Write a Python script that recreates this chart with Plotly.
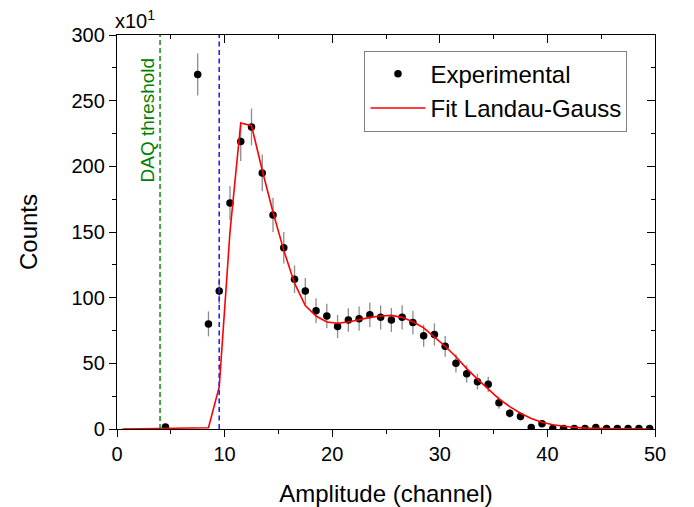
import plotly.graph_objects as go

# ---------------- data ----------------
exp_x = [4.5, 7.5, 8.5, 9.5, 10.5, 11.5, 12.5, 13.5, 14.5, 15.5, 16.5, 17.5, 18.5, 19.5,
         20.5, 21.5, 22.5, 23.5, 24.5, 25.5, 26.5, 27.5, 28.5, 29.5, 30.5, 31.5, 32.5,
         33.5, 34.5, 35.5, 36.5, 37.5, 38.5, 39.5, 40.5, 41.5, 42.5, 43.5, 44.5, 45.5,
         46.5, 47.5, 48.5, 49.5]
exp_y = [1.5, 270, 80, 105, 172, 219, 230, 195, 163, 138, 114, 105, 90, 86,
         78, 83, 84, 87, 85, 83, 85, 81, 71, 72, 63, 50, 42,
         36, 34, 20, 12, 9.5, 1.2, 4, 0.3, 0.3, 0.3, 0.3, 1.2, 0.3,
         0.3, 0.3, 0.3, 0.3]
exp_err = [1.2, 16, 9.5, 10, 13, 15, 14, 14, 13, 12, 10.5, 10, 9.5, 9.3,
           8.8, 9, 9.2, 9.3, 9.2, 9.1, 9.2, 9, 8.4, 8.5, 7.9, 7, 6.5,
           6, 5.8, 4.5, 3.5, 3, 1.1, 2, 0.5, 0.5, 0.5, 0.5, 1.1, 0.5,
           0.5, 0.5, 0.5, 0.5]

fit_x = [0.5, 1.5, 2.5, 3.5, 4.5, 5.5, 6.5, 7.5, 8.5, 9.5, 10.5, 11.5, 12.5, 13.5,
         14.5, 15.5, 16.5, 17.5, 18.5, 19.5, 20.5, 21.5, 22.5, 23.5, 24.5, 25.5,
         26.5, 27.5, 28.5, 29.5, 30.5, 31.5, 32.5, 33.5, 34.5, 35.5, 36.5, 37.5,
         38.5, 39.5, 40.5, 41.5, 42.5, 43.5, 44.5, 45.5, 46.5, 47.5, 48.5, 49.5]
fit_y = [0.0, 0.1, 0.1, 0.2, 0.2, 0.3, 0.4, 0.6, 1.0, 32, 150, 233, 231, 197,
         165, 136, 111, 94, 86, 81.5, 80.5, 81.5, 83.2, 85, 86, 86.5,
         85, 81.7, 77, 70, 63, 55, 46, 38, 30.5, 23, 17, 12,
         8, 5.2, 3.3, 2, 1.2, 0.7, 0.4, 0.25, 0.15, 0.1, 0.05, 0.03]

daq_threshold = 4.0
cut_line = 9.5
label_pos = (2.8, 235)

x_ticks = [0, 10, 20, 30, 40, 50]
y_ticks = [0, 50, 100, 150, 200, 250, 300]

FONT = "Liberation Sans, Arial, sans-serif"

fig = go.Figure()

fig.add_trace(go.Scatter(
    x=exp_x, y=exp_y, mode="markers", name="Experimental",
    marker=dict(color="black", size=7.5),
    error_y=dict(type="data", array=exp_err, visible=True, color="#8c8c8c",
                 thickness=1.3, width=0),
))
fig.add_trace(go.Scatter(
    x=fit_x, y=fit_y, mode="lines", name="Fit Landau-Gauss",
    line=dict(color="#ff0000", width=1.6),
))
# helper trace to register mirrored (inward-tick) axes
fig.add_trace(go.Scatter(x=[], y=[], xaxis="x2", yaxis="y2", showlegend=False,
                         hoverinfo="skip"))

# threshold lines
fig.add_shape(type="line", xref="x", yref="paper", x0=daq_threshold, x1=daq_threshold,
              y0=0, y1=1, line=dict(color="#008000", width=1.4, dash="5px,3px"))
fig.add_shape(type="line", xref="x", yref="paper", x0=cut_line, x1=cut_line,
              y0=0, y1=1, line=dict(color="#2222ff", width=1.6, dash="5px,3.5px"))

fig.add_annotation(x=label_pos[0], y=label_pos[1], xref="x", yref="y",
                   text="DAQ threshold", showarrow=False, textangle=-90,
                   font=dict(family=FONT, size=19, color="#008000"))
fig.add_annotation(x=0, y=1.0, xref="paper", yref="paper", xanchor="left",
                   yanchor="bottom", yshift=1, xshift=-4,
                   text="x10<sup>1</sup>", showarrow=False,
                   font=dict(family=FONT, size=20, color="black"))

axis_common = dict(showline=True, linecolor="black", linewidth=1.3, showgrid=False,
                   zeroline=False, tickcolor="black", tickwidth=1.3)

fig.update_layout(
    width=694, height=507,
    margin=dict(l=109, r=47, t=27, b=86),
    paper_bgcolor="white", plot_bgcolor="white",
    font=dict(family=FONT, color="black"),
    showlegend=True,
    legend=dict(x=0.46, y=0.96, xanchor="left", yanchor="top",
                bgcolor="white", bordercolor="#808080", borderwidth=1,
                font=dict(family=FONT, size=24), itemwidth=55,
                tracegroupgap=0),
    xaxis=dict(range=[0, 50], tickvals=x_ticks, ticks="outside", ticklen=7,
               minor=dict(dtick=5, ticks="outside", ticklen=4, tickcolor="black"),
               tickfont=dict(size=20), title=dict(text="Amplitude (channel)",
               font=dict(size=24), standoff=21), **axis_common),
    yaxis=dict(range=[0, 300], tickvals=y_ticks, ticks="outside", ticklen=7,
               minor=dict(dtick=25, ticks="outside", ticklen=4, tickcolor="black"),
               tickfont=dict(size=20), title=dict(text="Counts",
               font=dict(size=24), standoff=27), **axis_common),
    xaxis2=dict(range=[0, 50], overlaying="x", side="top", anchor="y",
                tickvals=x_ticks, ticks="inside", ticklen=8, showticklabels=False,
                minor=dict(dtick=5, ticks="inside", ticklen=4, tickcolor="black"),
                **axis_common),
    yaxis2=dict(range=[0, 300], overlaying="y", side="right", anchor="x",
                tickvals=y_ticks, ticks="inside", ticklen=8, showticklabels=False,
                minor=dict(dtick=25, ticks="inside", ticklen=4, tickcolor="black"),
                **axis_common),
)

fig.write_html("out.html")
